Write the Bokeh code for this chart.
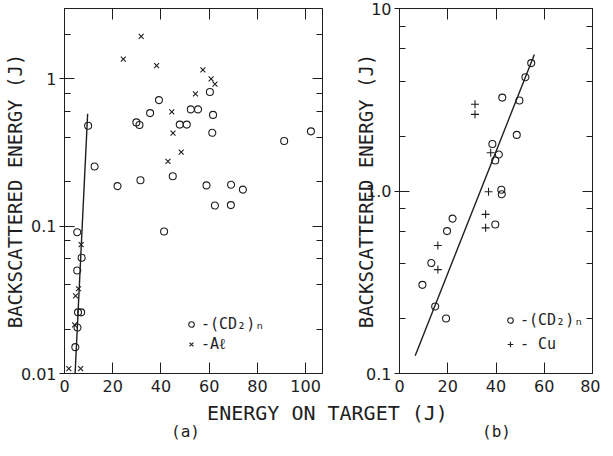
from bokeh.plotting import figure
from bokeh.models import (Range1d, FixedTicker, LinearAxis, LogAxis,
                          CustomJSTickFormatter, Legend, LegendItem, Label)
from bokeh.layouts import row, column
from bokeh.embed import file_html
from bokeh.resources import INLINE

# ---------------- data : panel (a) ----------------
a_cd2_x = [9.8, 12.5, 22.0, 31.5, 29.8, 31.1, 35.5, 39.2, 44.9, 47.8, 50.7, 52.4,
           55.4, 60.3, 61.6, 61.3, 58.9, 62.4, 69.1, 69.0, 74.0, 91.1, 102.2, 41.3,
           5.3, 7.1, 5.3, 5.6, 6.9, 5.4, 4.5]
a_cd2_y = [0.48, 0.254, 0.187, 0.205, 0.506, 0.486, 0.585, 0.717, 0.218, 0.489, 0.489, 0.62,
           0.62, 0.814, 0.569, 0.43, 0.189, 0.138, 0.191, 0.139, 0.177, 0.378, 0.44, 0.092,
           0.091, 0.061, 0.05, 0.026, 0.026, 0.0205, 0.0151]
a_al_x = [31.8, 24.4, 38.2, 57.4, 60.8, 62.4, 54.3, 44.5, 45.0, 48.4, 42.9,
          6.9, 5.8, 4.6, 4.2, 1.8, 6.7]
a_al_y = [1.94, 1.36, 1.23, 1.15, 1.0, 0.92, 0.79, 0.596, 0.428, 0.318, 0.275,
          0.075, 0.0376, 0.0336, 0.0214, 0.0108, 0.0108]
a_fit_x = [4.4, 9.6]
a_fit_y = [0.01, 0.58]

a_x_ticks = [0, 20, 40, 60, 80, 100]
a_y_ticks = [0.01, 0.1, 1]
a_y_labels = ["0.01", "0.1", "1"]
a_y_minor = [0.02, 0.04, 0.06, 0.08, 0.2, 0.4, 0.6, 0.8, 2]

# ---------------- data : panel (b) ----------------
b_cd2_x = [54.6, 52.2, 42.6, 49.7, 48.6, 38.5, 41.2, 39.7, 42.2, 42.4, 22.0, 39.7,
           19.7, 13.2, 9.5, 14.8, 19.3]
b_cd2_y = [5.02, 4.2, 3.25, 3.13, 2.03, 1.81, 1.585, 1.47, 1.016, 0.96, 0.706, 0.655,
           0.603, 0.403, 0.306, 0.233, 0.2]
b_cu_x = [31.3, 31.3, 37.8, 36.9, 35.7, 35.7, 15.9, 15.9]
b_cu_y = [2.99, 2.63, 1.62, 0.99, 0.745, 0.628, 0.503, 0.371]
b_fit_x = [6.5, 55.9]
b_fit_y = [0.125, 5.6]

b_x_ticks = [0, 20, 40, 60, 80]
b_y_ticks = [0.1, 1, 10]
b_y_labels = ["0.1", "1.0", "10"]
b_y_minor = [0.2, 0.4, 0.6, 0.8, 2, 4, 6, 8]

INK = "#1e1e1e"
TICK_FONT = "DejaVu Sans"
LABEL_FONT = "DejaVu Sans Mono"


def blank():
    return CustomJSTickFormatter(code="return ''")


def style(ax, tin, tout, minor_in):
    ax.axis_line_color = INK
    ax.major_tick_line_color = INK
    ax.minor_tick_line_color = INK
    ax.major_tick_in = tin
    ax.major_tick_out = tout
    ax.minor_tick_in = minor_in
    ax.minor_tick_out = 0
    ax.major_label_text_font = TICK_FONT
    ax.major_label_text_font_size = "16px"
    ax.major_label_text_color = INK
    ax.axis_label_text_font = LABEL_FONT
    ax.axis_label_text_font_size = "19px"
    ax.axis_label_text_font_style = "normal"
    ax.axis_label_text_color = INK


def panel(width, height, xmax, yr, xt, yt, ylab, yminor, borders, label_standoff):
    p = figure(width=width, height=height, output_backend="svg", toolbar_location=None,
               x_range=Range1d(0, xmax), y_range=Range1d(*yr), y_axis_type="log")
    p.min_border_left, p.min_border_right, p.min_border_top, p.min_border_bottom = borders
    p.xgrid.visible = False
    p.ygrid.visible = False
    p.outline_line_color = INK
    p.background_fill_color = "white"
    p.border_fill_color = "white"

    xa = p.xaxis[0]
    xa.ticker = FixedTicker(ticks=xt, minor_ticks=[])
    style(xa, 11, 0, 0)
    xa.major_label_standoff = 6

    ya = p.yaxis[0]
    ya.ticker = FixedTicker(ticks=yt, minor_ticks=yminor)
    ya.major_label_overrides = {t: s for t, s in zip(yt, ylab)}
    style(ya, 10, 5, 6)
    ya.major_label_standoff = 3
    ya.axis_label = "BACKSCATTERED ENERGY (J)"
    ya.axis_label_standoff = label_standoff

    top = LinearAxis(ticker=FixedTicker(ticks=xt, minor_ticks=[]), formatter=blank())
    style(top, 11, 0, 0)
    top.major_label_standoff = 0
    p.add_layout(top, "above")

    right = LogAxis(ticker=FixedTicker(ticks=yt, minor_ticks=yminor), formatter=blank())
    style(right, 10, 0, 6)
    right.major_label_standoff = 0
    p.add_layout(right, "right")
    return p


# ---------------- panel (a) ----------------
p1 = panel(340, 399, 107, (0.01, 3), a_x_ticks, a_y_ticks, a_y_labels, a_y_minor,
           (59, 18, 4, 26), -8)
p1.line(a_fit_x, a_fit_y, line_color=INK, line_width=1.4)
r1 = p1.scatter(a_cd2_x, a_cd2_y, marker="circle", size=7, fill_color=None,
                line_color=INK, line_width=1.1)
r2 = p1.scatter(a_al_x, a_al_y, marker="x", size=7, line_color=INK, line_width=1.1)
leg1 = Legend(items=[LegendItem(label="-(CD\u2082)\u2099", renderers=[r1]),
                     LegendItem(label="-A\u2113", renderers=[r2])],
              location=(120, 20), border_line_color=None, background_fill_alpha=0,
              padding=0, margin=0, spacing=2, glyph_width=14, glyph_height=16,
              label_height=16, label_standoff=3, label_text_font=LABEL_FONT,
              label_text_font_size="15px", label_text_color=INK)
p1.add_layout(leg1)

# ---------------- panel (b) ----------------
p2 = panel(260, 399, 80, (0.1, 10), b_x_ticks, b_y_ticks, b_y_labels, b_y_minor,
           (59, 8, 8, 24), -14)
p2.line(b_fit_x, b_fit_y, line_color=INK, line_width=1.4)
r3 = p2.scatter(b_cd2_x, b_cd2_y, marker="circle", size=7, fill_color=None,
                line_color=INK, line_width=1.1)
r4 = p2.scatter(b_cu_x, b_cu_y, marker="cross", size=8, line_color=INK, line_width=1.1)
leg2 = Legend(items=[LegendItem(label="-(CD\u2082)\u2099", renderers=[r3]),
                     LegendItem(label="- Cu", renderers=[r4])],
              location=(104, 20), border_line_color=None, background_fill_alpha=0,
              padding=0, margin=0, spacing=6, glyph_width=14, glyph_height=16,
              label_height=16, label_standoff=3, label_text_font=LABEL_FONT,
              label_text_font_size="15px", label_text_color=INK)
p2.add_layout(leg2)

# ---------------- shared caption strip ----------------
p3 = figure(width=600, height=41, output_backend="svg", toolbar_location=None,
            x_range=Range1d(0, 600), y_range=Range1d(0, 41),
            x_axis_type=None, y_axis_type=None)
p3.min_border = 0
p3.outline_line_color = None
p3.xgrid.visible = False
p3.ygrid.visible = False
p3.add_layout(Label(x=327, y=28, text="ENERGY ON TARGET (J)", text_align="center",
                    text_baseline="middle", text_font=LABEL_FONT, text_font_size="20px",
                    text_color=INK))
p3.add_layout(Label(x=185, y=9, text="(a)", text_align="center", text_baseline="middle",
                    text_font=LABEL_FONT, text_font_size="16px", text_color=INK))
p3.add_layout(Label(x=496, y=9, text="(b)", text_align="center", text_baseline="middle",
                    text_font=LABEL_FONT, text_font_size="16px", text_color=INK))

layout = column(row(p1, p2), p3)
open("out.html", "w").write(file_html(layout, INLINE))
